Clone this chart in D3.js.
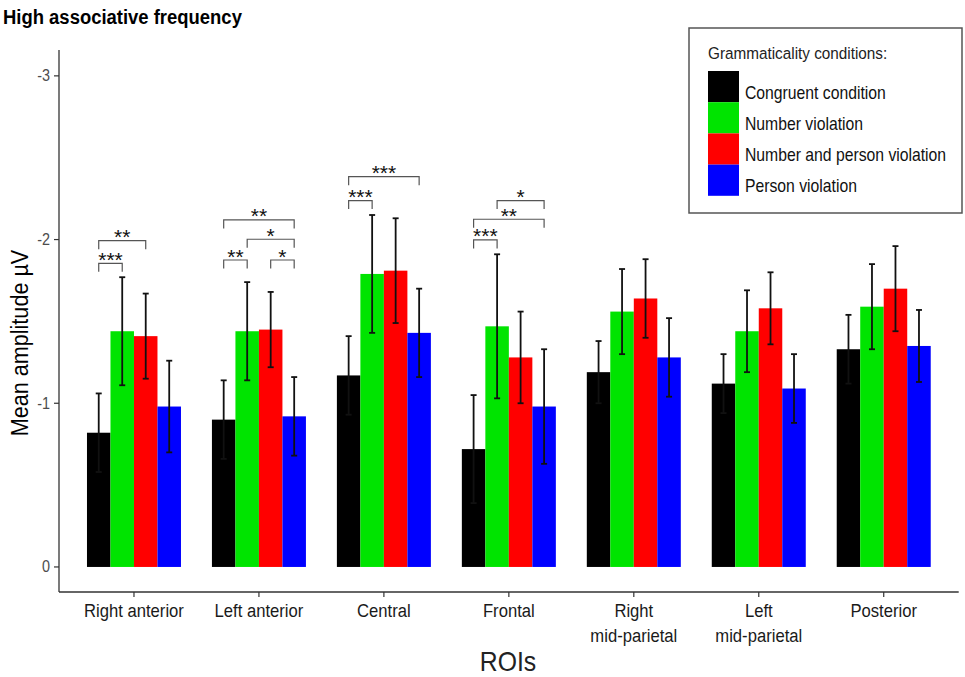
<!DOCTYPE html>
<html>
<head>
<meta charset="utf-8">
<script src="https://cdn.jsdelivr.net/npm/d3@7"></script>
<style>
  body { margin: 0; background: #fff; }
  text { font-family: "Liberation Sans", Arial, sans-serif; }
</style>
</head>
<body>
<script>
var w = 965;
var h = 677;

// regions of interest (x categories)
var rois = ["Right anterior", "Left anterior", "Central", "Frontal",
            "Right\nmid-parietal", "Left\nmid-parietal", "Posterior"];

// grammaticality conditions
var conditions = ["Congruent condition", "Number violation",
                  "Number and person violation", "Person violation"];
var colors = ["#000000", "#00E400", "#FF0000", "#0000FF"];

// mean amplitudes (µV)
var congruent    = [-0.82, -0.90, -1.17, -0.72, -1.19, -1.12, -1.33];
var number       = [-1.44, -1.44, -1.79, -1.47, -1.56, -1.44, -1.59];
var numberPerson = [-1.41, -1.45, -1.81, -1.28, -1.64, -1.58, -1.70];
var person       = [-0.98, -0.92, -1.43, -0.98, -1.28, -1.09, -1.35];

// error bar half-lengths
var congruentErr    = [0.24, 0.24, 0.24, 0.33, 0.19, 0.18, 0.21];
var numberErr       = [0.33, 0.30, 0.36, 0.44, 0.26, 0.25, 0.26];
var numberPersonErr = [0.26, 0.23, 0.32, 0.28, 0.24, 0.22, 0.26];
var personErr       = [0.28, 0.24, 0.27, 0.35, 0.24, 0.21, 0.22];

var yTicks = [0, -1, -2, -3];

// significance brackets: roi index, from condition, to condition, level, label
var sigRoi   = [0, 0, 1, 1, 1, 1, 2, 2, 3, 3, 3];
var sigFrom  = [0, 0, 0, 1, 0, 2, 0, 0, 1, 0, 0];
var sigTo    = [1, 2, 3, 3, 1, 3, 3, 1, 3, 3, 1];
var sigLevel = [-1.855, -1.993, -2.12, -2.002, -1.875, -1.875, -2.384, -2.238, -2.238, -2.124, -1.998];
var sigText  = ["***", "**", "**", "*", "**", "*", "***", "***", "*", "**", "***"];

var means = [congruent, number, numberPerson, person];
var errs = [congruentErr, numberErr, numberPersonErr, personErr];

var bars = [];
rois.forEach(function(r, i) {
  conditions.forEach(function(c, j) {
    bars.push({roi: r, cond: c, value: means[j][i], err: errs[j][i]});
  });
});

var sigs = sigRoi.map(function(r, i) {
  return {roi: rois[r], from: conditions[sigFrom[i]], to: conditions[sigTo[i]],
          level: sigLevel[i], label: sigText[i]};
});

var panelL = 59, panelR = 958.7, panelT = 50, panelB = 592;

var x = d3.scalePoint().domain(rois).range([panelL, panelR]).padding(0.6);
var xSub = d3.scaleBand().domain(conditions).range([-47, 47]);
var y = d3.scaleLinear().domain([0.153, -3.158]).range([panelB, panelT]);
var color = d3.scaleOrdinal().domain(conditions).range(colors);

var svg = d3.select("body")
            .append("svg")
            .attr("width", w)
            .attr("height", h);

// narrow-looking text: squeeze horizontally
function place(sel, px, py, rot) {
  sel.attr("transform", "translate(" + px + "," + py + ")" +
           (rot ? " rotate(" + rot + ")" : "") + " scale(0.9,1)");
  return sel;
}

// title
place(svg.append("text"), 3, 24)
  .attr("font-size", 20.5)
  .attr("font-weight", "bold")
  .text("High associative frequency");

// bars
svg.selectAll("rect.bar")
  .data(bars)
  .enter()
  .append("rect")
  .attr("class", "bar")
  .attr("x", function(d) { return x(d.roi) + xSub(d.cond); })
  .attr("width", xSub.bandwidth())
  .attr("y", function(d) { return y(d.value); })
  .attr("height", function(d) { return y(0) - y(d.value); })
  .attr("fill", function(d) { return color(d.cond); });

// error bars
var eb = svg.selectAll("g.err")
  .data(bars)
  .enter()
  .append("g")
  .attr("class", "err")
  .attr("stroke", "#111")
  .attr("stroke-width", 1.8);

function cx(d) { return x(d.roi) + xSub(d.cond) + xSub.bandwidth() / 2; }

eb.append("line")
  .attr("x1", cx).attr("x2", cx)
  .attr("y1", function(d) { return y(d.value - d.err); })
  .attr("y2", function(d) { return y(d.value + d.err); });
eb.append("line")
  .attr("x1", function(d) { return cx(d) - 3; })
  .attr("x2", function(d) { return cx(d) + 3; })
  .attr("y1", function(d) { return y(d.value - d.err); })
  .attr("y2", function(d) { return y(d.value - d.err); });
eb.append("line")
  .attr("x1", function(d) { return cx(d) - 3; })
  .attr("x2", function(d) { return cx(d) + 3; })
  .attr("y1", function(d) { return y(d.value + d.err); })
  .attr("y2", function(d) { return y(d.value + d.err); });

// significance brackets
var sg = svg.selectAll("g.sig")
  .data(sigs)
  .enter()
  .append("g")
  .attr("class", "sig");

sg.append("path")
  .attr("fill", "none")
  .attr("stroke", "#555")
  .attr("stroke-width", 1.2)
  .attr("d", function(d) {
    var x1 = x(d.roi) + xSub(d.from) + xSub.bandwidth() / 2;
    var x2 = x(d.roi) + xSub(d.to) + xSub.bandwidth() / 2;
    var yy = y(d.level);
    return "M" + x1 + "," + (yy + 8.5) + "V" + yy + "H" + x2 + "V" + (yy + 8.5);
  });

sg.append("text")
  .attr("x", function(d) {
    return x(d.roi) + (xSub(d.from) + xSub(d.to)) / 2 + xSub.bandwidth() / 2;
  })
  .attr("y", function(d) { return y(d.level) + 3.5; })
  .attr("text-anchor", "middle")
  .attr("font-size", 21)
  .attr("fill", "#111")
  .text(function(d) { return d.label; });

// axes
var axisColor = "#333";
svg.append("line")
  .attr("x1", panelL).attr("x2", panelL)
  .attr("y1", panelT).attr("y2", panelB)
  .attr("stroke", axisColor).attr("stroke-width", 1.3);
svg.append("line")
  .attr("x1", panelL).attr("x2", panelR)
  .attr("y1", panelB).attr("y2", panelB)
  .attr("stroke", axisColor).attr("stroke-width", 1.3);

var yt = svg.selectAll("g.ytick")
  .data(yTicks)
  .enter()
  .append("g")
  .attr("class", "ytick");
yt.append("line")
  .attr("x1", panelL - 5).attr("x2", panelL)
  .attr("y1", function(d) { return y(d); })
  .attr("y2", function(d) { return y(d); })
  .attr("stroke", axisColor).attr("stroke-width", 1.2);
yt.append("text")
  .each(function(d) { place(d3.select(this), panelL - 9, y(d) + 5.5); })
  .attr("text-anchor", "end")
  .attr("font-size", 16)
  .attr("fill", "#4D4D4D")
  .text(function(d) { return d; });

var xt = svg.selectAll("g.xtick")
  .data(rois)
  .enter()
  .append("g")
  .attr("class", "xtick");
xt.append("line")
  .attr("x1", function(d) { return x(d); })
  .attr("x2", function(d) { return x(d); })
  .attr("y1", panelB).attr("y2", panelB + 5)
  .attr("stroke", axisColor).attr("stroke-width", 1.2);
xt.each(function(d) {
  var g = d3.select(this);
  d.split("\n").forEach(function(line, k) {
    place(g.append("text"), x(d), 617 + k * 25)
      .attr("text-anchor", "middle")
      .attr("font-size", 18.5)
      .attr("fill", "#1a1a1a")
      .text(line);
  });
});

// axis titles
place(svg.append("text"), 28, 343, -90)
  .attr("text-anchor", "middle")
  .attr("font-size", 24)
  .text("Mean amplitude µV");
place(svg.append("text"), 508, 671)
  .attr("text-anchor", "middle")
  .attr("font-size", 27.5)
  .attr("fill", "#222")
  .text("ROIs");

// legend
var lg = svg.append("g");
lg.append("rect")
  .attr("x", 689).attr("y", 28)
  .attr("width", 273).attr("height", 185)
  .attr("fill", "#fff")
  .attr("stroke", "#555").attr("stroke-width", 1.5);
place(lg.append("text"), 708, 59)
  .attr("font-size", 17)
  .attr("fill", "#222")
  .text("Grammaticality conditions:");

var items = lg.selectAll("g.item")
  .data(conditions)
  .enter()
  .append("g")
  .attr("class", "item");
items.append("rect")
  .attr("x", 708)
  .attr("y", function(d, i) { return 71 + i * 31.2; })
  .attr("width", 31).attr("height", 31.2)
  .attr("fill", function(d) { return color(d); });
items.append("text")
  .each(function(d, i) { place(d3.select(this), 745, 71 + i * 31.2 + 27.5); })
  .attr("font-size", 17.5)
  .attr("fill", "#111")
  .text(function(d) { return d; });
</script>
</body>
</html>
